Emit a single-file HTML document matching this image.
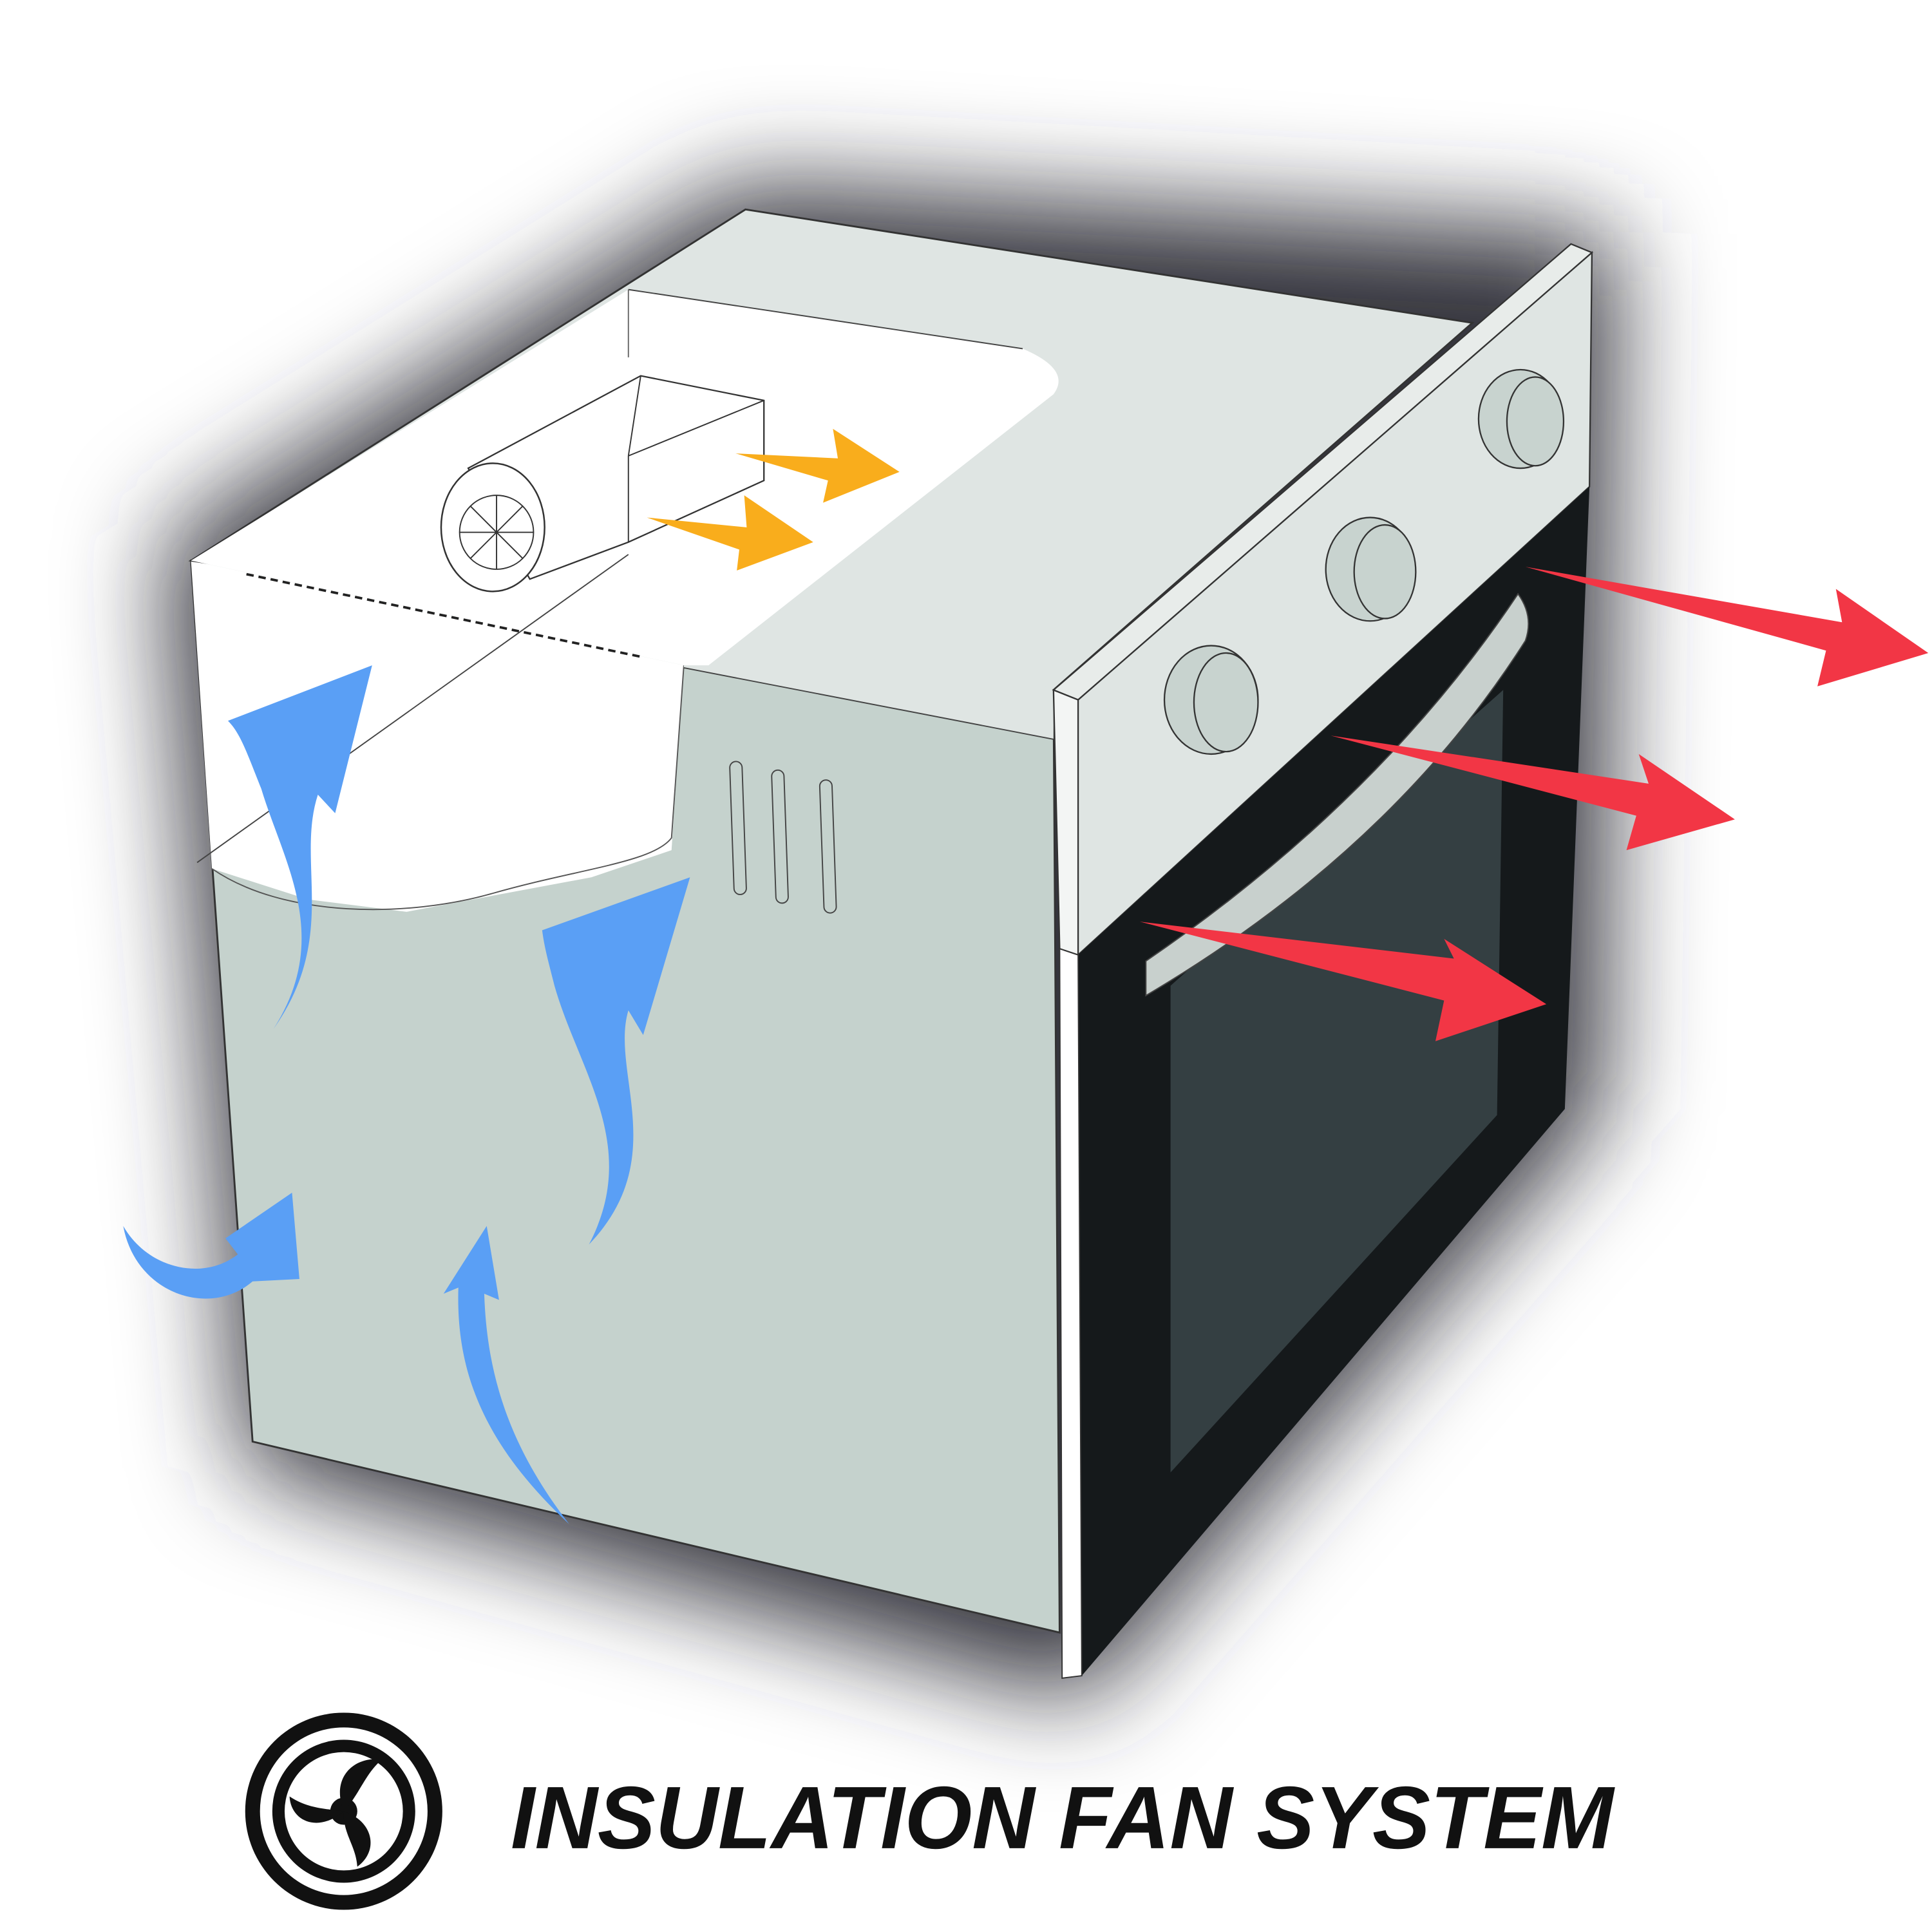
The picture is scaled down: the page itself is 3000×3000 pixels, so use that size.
<!DOCTYPE html>
<html><head><style>html,body{margin:0;padding:0;background:#fff}svg{display:block}</style></head>
<body>
<svg width="3000" height="3000" viewBox="0 0 1568 1568" xmlns="http://www.w3.org/2000/svg">
<defs>
<filter id="b" x="-30%" y="-30%" width="160%" height="160%"><feGaussianBlur stdDeviation="42"/></filter>
</defs>
<rect width="1568" height="1568" fill="#fff"/>
<polygon points="135,440 600,150 1310,190 1300,900 880,1380 200,1190" fill="#34363d" filter="url(#b)"/>
<!-- side face -->
<polygon points="155,455 855,560 860,1325 205,1170" fill="#c5d2cd" stroke="#333" stroke-width="1.5"/>
<polygon points="155,455 555,540 545,690 480,712 330,740 250,730 172,705" fill="#fff"/>
<path d="M172,705 C230,745 330,745 400,725 C470,705 530,700 545,680 L555,540" fill="none" stroke="#555" stroke-width="1"/>
<!-- top face -->
<polygon points="155,455 605,170 1195,262 855,560" fill="#dfe5e3" stroke="#333" stroke-width="1.5"/>
<polygon points="555,512 855,558 855,600 555,542" fill="#dfe5e3"/>
<line x1="555" y1="542" x2="855" y2="600" stroke="#444" stroke-width="1"/>
<path d="M510,235 L830,283 Q870,300 855,320 L575,540 L555,540 L155,455 L510,235 Z" fill="#fff"/>
<line x1="510" y1="235" x2="830" y2="283" stroke="#444" stroke-width="1"/>
<line x1="510" y1="235" x2="510" y2="290" stroke="#666" stroke-width="1"/>
<line x1="200" y1="466" x2="520" y2="533" stroke="#222" stroke-width="2" stroke-dasharray="6,4"/>
<line x1="160" y1="700" x2="510" y2="450" stroke="#444" stroke-width="1"/>
<!-- fan -->
<polygon points="380,380 520,305 620,325 620,390 510,440 430,470" fill="#fff" stroke="#333" stroke-width="1.2"/>
<line x1="520" y1="305" x2="510" y2="370" stroke="#333"/>
<line x1="510" y1="370" x2="620" y2="325" stroke="#333"/>
<line x1="510" y1="370" x2="510" y2="440" stroke="#333"/>
<ellipse cx="400" cy="428" rx="42" ry="52" fill="#fff" stroke="#333" stroke-width="1.3"/>
<circle cx="403" cy="432" r="30" fill="#fff" stroke="#333"/>
<path d="M403,402 L403,462 M373,432 L433,432 M382,411 L424,453 M424,411 L382,453" stroke="#333"/>
<!-- vents -->
<rect x="594" y="618" width="10" height="108" rx="5" fill="none" stroke="#444" transform="rotate(-2 599 672)"/>
<rect x="628" y="625" width="10" height="108" rx="5" fill="none" stroke="#444" transform="rotate(-2 633 679)"/>
<rect x="667" y="633" width="10" height="108" rx="5" fill="none" stroke="#444" transform="rotate(-2 672 687)"/>
<!-- panel -->
<polygon points="855,560 1275,198 1292,205 875,568" fill="#e8ecea" stroke="#333" stroke-width="1.2"/>
<polygon points="855,560 875,568 875,775 860,770" fill="#f3f5f4" stroke="#333" stroke-width="1.2"/>
<polygon points="875,568 1292,205 1290,395 875,775" fill="#dfe5e3" stroke="#333" stroke-width="1.2"/>
<!-- door -->
<polygon points="875,775 1290,395 1270,900 878,1360" fill="#15191b"/>
<polygon points="860,770 875,775 878,1360 862,1362" fill="#fff" stroke="#333"/>
<polygon points="950,800 1220,560 1215,905 950,1195" fill="#343f42"/>
<path d="M930,780 Q1120,650 1232,482 Q1245,500 1238,520 Q1130,690 930,808 Z" fill="#c8d0cd" stroke="#444"/>
<!-- knobs -->
<g fill="#c8d3cf" stroke="#333" stroke-width="1.2">
<ellipse cx="983" cy="568" rx="38" ry="44"/><ellipse cx="995" cy="570" rx="26" ry="40"/>
<ellipse cx="1112" cy="462" rx="36" ry="42"/><ellipse cx="1124" cy="464" rx="25" ry="38"/>
<ellipse cx="1234" cy="340" rx="34" ry="40"/><ellipse cx="1246" cy="342" rx="23" ry="36"/>
</g>
<g fill="#f23645">
<polygon points="925,748 1180,778 1172,762 1255,815 1165,845 1172,812"/>
<polygon points="1080,597 1338,636 1330,612 1408,665 1320,690 1328,662"/>
<polygon points="1238,460 1495,505 1490,478 1565,530 1475,557 1482,528"/>
</g>
<g fill="#f9ad1c">
<polygon points="597,368 680,372 676,348 730,383 668,408 672,390"/>
<polygon points="525,420 606,428 604,402 660,440 598,463 600,446"/>
</g>
<g fill="#5a9ff5">
<path d="M222,835 C270,760 230,700 212,640 C200,610 195,595 185,585 L302,540 L272,660 L258,645 C240,700 275,760 222,835 Z"/>
<path d="M478,1010 C520,930 470,870 450,800 C445,780 442,770 440,755 L560,712 L522,840 L510,820 C495,870 545,940 478,1010 Z"/>
<path d="M100,995 C110,1050 170,1070 205,1040 L243,1038 L237,968 L183,1005 L193,1018 C165,1040 120,1030 100,995 Z"/>
<path d="M462,1237 C390,1170 370,1110 372,1045 L360,1050 L395,995 L405,1055 L393,1050 C395,1110 410,1170 462,1237 Z"/>
</g>
<!-- logo -->
<circle cx="279" cy="1470" r="80" fill="#111"/>
<circle cx="279" cy="1470" r="68" fill="#fff"/>
<circle cx="279" cy="1470" r="58" fill="#111"/>
<circle cx="279" cy="1470" r="48" fill="#fff"/>
<g fill="#111">
<circle cx="279" cy="1470" r="11"/>
<path d="M279,1470 C268,1442 288,1425 310,1428 C296,1440 292,1456 279,1470 Z"/>
<path d="M279,1470 C303,1478 308,1502 290,1515 C289,1498 278,1488 279,1470 Z"/>
<path d="M279,1470 C258,1488 236,1478 235,1458 C250,1468 265,1468 279,1470 Z"/>
</g>
<text x="862" y="1500" text-anchor="middle" font-family="Liberation Sans, sans-serif" font-weight="bold" font-style="italic" font-size="72" textLength="895" lengthAdjust="spacingAndGlyphs" fill="#111">INSULATION FAN SYSTEM</text>
</svg>
</body></html>
